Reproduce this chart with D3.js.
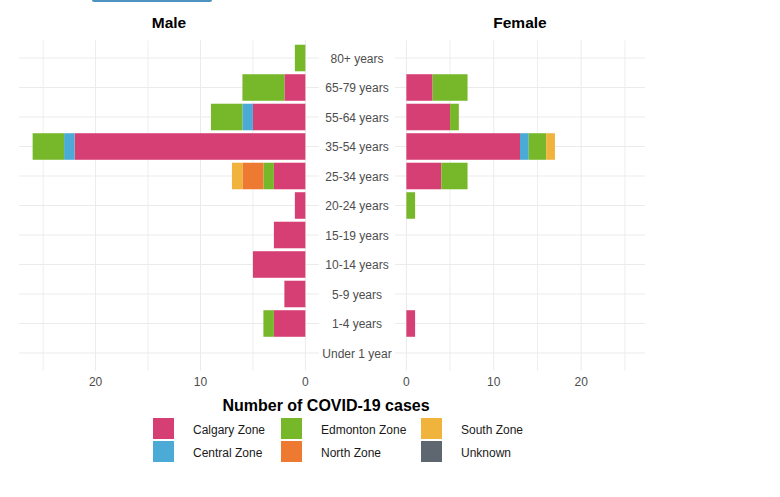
<!DOCTYPE html>
<html>
<head>
<meta charset="utf-8">
<script src="https://cdn.jsdelivr.net/npm/d3@7"></script>
<style>
  body { margin: 0; background: #fff; }
  text { font-family: "Liberation Sans", Arial, sans-serif; }
</style>
</head>
<body>
<svg width="780" height="497"></svg>
<script>
// age groups, top to bottom
var ages = ['80+ years', '65-79 years', '55-64 years', '35-54 years', '25-34 years', '20-24 years',
	'15-19 years', '10-14 years', '5-9 years', '1-4 years', 'Under 1 year'];
var zones = ['Calgary Zone', 'Central Zone', 'Edmonton Zone', 'North Zone', 'South Zone', 'Unknown'];
var zoneColors = ['#D63F73', '#4BABD6', '#77B82B', '#EE7A31', '#F0B43C', '#5E6670'];
var ticks = [0, 10, 20];

// case counts per zone, in the order of ages
var maleCalgary = [0, 2, 5, 22, 3, 1, 3, 5, 2, 3, 0];
var maleCentral = [0, 0, 1, 1, 0, 0, 0, 0, 0, 0, 0];
var maleEdmonton = [1, 4, 3, 3, 1, 0, 0, 0, 0, 1, 0];
var maleNorth = [0, 0, 0, 0, 2, 0, 0, 0, 0, 0, 0];
var maleSouth = [0, 0, 0, 0, 1, 0, 0, 0, 0, 0, 0];
var maleUnknown = [0, 0, 0, 0, 0, 0, 0, 0, 0, 0, 0];

var femaleCalgary = [0, 3, 5, 13, 4, 0, 0, 0, 0, 1, 0];
var femaleCentral = [0, 0, 0, 1, 0, 0, 0, 0, 0, 0, 0];
var femaleEdmonton = [0, 4, 1, 2, 3, 1, 0, 0, 0, 0, 0];
var femaleNorth = [0, 0, 0, 0, 0, 0, 0, 0, 0, 0, 0];
var femaleSouth = [0, 0, 0, 1, 0, 0, 0, 0, 0, 0, 0];
var femaleUnknown = [0, 0, 0, 0, 0, 0, 0, 0, 0, 0, 0];

var svg = d3.select('svg');

function rows(series) {
	return ages.map(function(a, i) {
		var r = { age: a };
		zones.forEach(function(z, j) { r[z] = series[j][i]; });
		return r;
	});
}
var male = rows([maleCalgary, maleCentral, maleEdmonton, maleNorth, maleSouth, maleUnknown]);
var female = rows([femaleCalgary, femaleCentral, femaleEdmonton, femaleNorth, femaleSouth, femaleUnknown]);

var plotTop = 40.3, plotBottom = 370.7;
var y = d3.scalePoint().domain(ages).range([plotTop, plotBottom]).padding(0.6);
var barH = y.step() * 0.9;
var color = d3.scaleOrdinal().domain(zones).range(zoneColors);
var stack = d3.stack().keys(zones);

// cut-off strip at the very top
svg.append('rect').attr('x', 92).attr('y', -4).attr('width', 120).attr('height', 6)
	.attr('rx', 2).attr('fill', '#4E93BF');

function panel(data, x, title, x0, x1) {
	var g = svg.append('g');
	// minor grid
	g.selectAll('.vminor').data([5, 15, 25]).enter().append('line')
		.attr('x1', d => x(d)).attr('x2', d => x(d))
		.attr('y1', plotTop).attr('y2', plotBottom)
		.attr('stroke', '#ececec').attr('stroke-width', 0.9);
	g.selectAll('.vmajor').data(ticks).enter().append('line')
		.attr('x1', d => x(d)).attr('x2', d => x(d))
		.attr('y1', plotTop).attr('y2', plotBottom)
		.attr('stroke', '#ebebeb').attr('stroke-width', 1);
	g.selectAll('.hgrid').data(ages).enter().append('line')
		.attr('x1', x0).attr('x2', x1)
		.attr('y1', d => y(d)).attr('y2', d => y(d))
		.attr('stroke', '#ebebeb').attr('stroke-width', 1);

	g.selectAll('g.layer').data(stack(data)).enter().append('g')
		.attr('fill', d => color(d.key))
		.selectAll('rect').data(d => d).enter().append('rect')
		.attr('x', d => Math.min(x(d[0]), x(d[1])))
		.attr('width', d => Math.abs(x(d[1]) - x(d[0])))
		.attr('y', d => y(d.data.age) - barH / 2)
		.attr('height', barH);

	g.selectAll('.tick').data(ticks).enter().append('text')
		.attr('x', d => x(d)).attr('y', 385.5)
		.attr('text-anchor', 'middle').attr('font-size', 12).attr('fill', '#4d4d4d')
		.text(d => d);

	svg.append('text').attr('x', (x0 + x1) / 2).attr('y', 28)
		.attr('text-anchor', 'middle').attr('font-size', 15.5).attr('font-weight', 'bold')
		.attr('fill', '#000').text(title);
}

var xMale = d3.scaleLinear().domain([-1.3, 27.3]).range([319, 19]);
var xFemale = d3.scaleLinear().domain([-1.3, 27.3]).range([395, 645]);
panel(male, xMale, 'Male', 19, 319);
panel(female, xFemale, 'Female', 395, 645);

// age labels between the panels
svg.append('g').selectAll('text').data(ages).enter().append('text')
	.attr('x', 357).attr('y', d => y(d) + 4.5)
	.attr('text-anchor', 'middle').attr('font-size', 12).attr('fill', '#4d4d4d')
	.text(d => d);

// legend
svg.append('text').attr('x', 326).attr('y', 411)
	.attr('text-anchor', 'middle').attr('font-size', 16).attr('font-weight', 'bold')
	.text('Number of COVID-19 cases');

var legendCols = [153, 281, 421];
var leg = svg.append('g').selectAll('g').data(zones).enter().append('g')
	.attr('transform', function(d, i) {
		return 'translate(' + legendCols[Math.floor(i / 2)] + ',' + (418 + (i % 2) * 23) + ')';
	});
leg.append('rect').attr('width', 21).attr('height', 21).attr('fill', d => color(d));
leg.append('text').attr('x', 40).attr('y', 15.5).attr('font-size', 12).attr('fill', '#1a1a1a')
	.text(d => d);
</script>
</body>
</html>
